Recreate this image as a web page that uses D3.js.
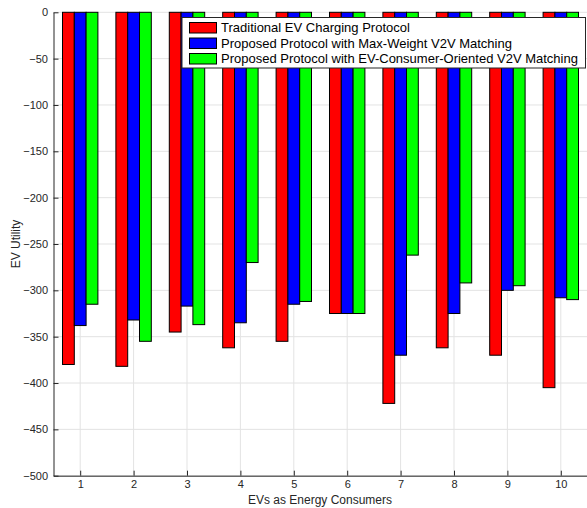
<!DOCTYPE html>
<html>
<head>
<meta charset="utf-8">
<script src="https://cdn.jsdelivr.net/npm/d3@7"></script>
<style>
  body { margin: 0; background: #fff; }
  svg { display: block; font-family: "Liberation Sans", Arial, Helvetica, sans-serif; }
</style>
</head>
<body>
<svg id="chart" width="587" height="508"></svg>
<script>
const categories = [1, 2, 3, 4, 5, 6, 7, 8, 9, 10];
const seriesNames = [
  "Traditional EV Charging Protocol",
  "Proposed Protocol with Max-Weight V2V Matching",
  "Proposed Protocol with EV-Consumer-Oriented V2V Matching"
];
const traditional = [-380, -382, -345, -362, -355, -325, -422, -362, -370, -405];
const maxWeight   = [-338, -332, -317, -335, -315, -325, -370, -325, -300, -308];
const consumerOriented = [-315, -355, -337, -270, -312, -325, -262, -292, -295, -310];
const colors = ["#ff0000", "#0000ff", "#00ff00"];
const yTicks = [0, -50, -100, -150, -200, -250, -300, -350, -400, -450, -500];
const xLabel = "EVs as Energy Consumers";
const yLabel = "EV Utility";

const series = [traditional, maxWeight, consumerOriented];

const svg = d3.select("#chart");
const pLeft = 53.5, pRight = 587.5, pTop = 12.3, pBottom = 475.7;

const x = d3.scaleLinear().domain([0.5, 10.5]).range([pLeft, pRight]);
const y = d3.scaleLinear().domain([0, -500]).range([pTop, pBottom]);
const barW = 0.221; // in category units

const textColor = "#262626";

// grid
const grid = svg.append("g");
grid.selectAll("line.h").data(yTicks).enter().append("line")
  .attr("x1", pLeft).attr("x2", pRight)
  .attr("y1", d => y(d)).attr("y2", d => y(d))
  .attr("stroke", "#e3e3e3").attr("stroke-width", 1);
grid.selectAll("line.v").data(categories).enter().append("line")
  .attr("y1", pTop).attr("y2", pBottom)
  .attr("x1", d => x(d)).attr("x2", d => x(d))
  .attr("stroke", "#e3e3e3").attr("stroke-width", 1);

// bars
const bars = svg.append("g");
series.forEach((vals, si) => {
  bars.selectAll("rect.s" + si).data(vals).enter().append("rect")
    .attr("x", (d, i) => x(categories[i] + (si - 1.5) * barW))
    .attr("width", x(barW) - x(0))
    .attr("y", d => y(0))
    .attr("height", d => y(d) - y(0))
    .attr("fill", colors[si])
    .attr("stroke", "#000").attr("stroke-width", 1);
});

// axes
const yAxis = d3.axisLeft(y).tickValues(yTicks).tickSizeInner(-5).tickSizeOuter(0).tickPadding(5.5);
const gy = svg.append("g").attr("transform", `translate(${pLeft},0)`).call(yAxis);
const xAxis = d3.axisBottom(x).tickValues(categories).tickSizeInner(-5).tickSizeOuter(0).tickPadding(5);
const gx = svg.append("g").attr("transform", `translate(0,${pBottom})`).call(xAxis);
[gx, gy].forEach(g => {
  g.select(".domain").attr("stroke", textColor).attr("stroke-width", 1);
  g.selectAll(".tick line").attr("stroke", textColor);
  g.selectAll(".tick text").attr("fill", textColor).style("font-size", "11px")
    .style("font-family", '"Liberation Sans", Arial, sans-serif');
});

// axis labels
svg.append("text").attr("x", (pLeft + pRight) / 2 - 0.5).attr("y", 503.5)
  .attr("text-anchor", "middle").attr("fill", textColor).style("font-size", "12px").text(xLabel);
svg.append("text").attr("transform", `translate(19.5,${(pTop + pBottom) / 2}) rotate(-90)`)
  .attr("text-anchor", "middle").attr("fill", textColor).style("font-size", "12px").text(yLabel);

// legend
const lg = svg.append("g");
lg.append("rect").attr("x", 182).attr("y", 17.5).attr("width", 403.5).attr("height", 50.5)
  .attr("fill", "#fff").attr("stroke", textColor).attr("stroke-width", 1);
seriesNames.forEach((name, i) => {
  const cy = 27.7 + i * 15.5;
  lg.append("rect").attr("x", 189.5).attr("y", cy - 5.2).attr("width", 27).attr("height", 10.5)
    .attr("fill", colors[i]).attr("stroke", "#000").attr("stroke-width", 1);
  lg.append("text").attr("x", 221).attr("y", cy + 4.6).attr("fill", "#000")
    .style("font-size", "13px").text(name);
});
</script>
</body>
</html>
